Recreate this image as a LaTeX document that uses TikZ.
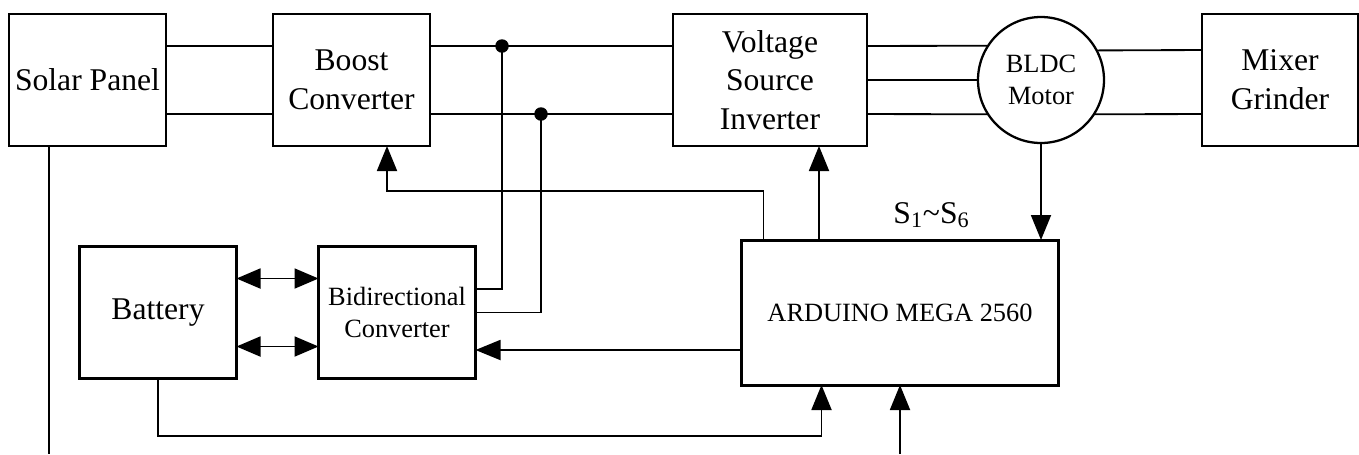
\documentclass[tikz,border=0pt]{standalone}
\usepackage{fontspec}
\setmainfont{Liberation Serif}
\usetikzlibrary{arrows.meta, positioning, calc}
\tikzset{
  blk/.style={draw, line width=1.3pt, minimum width=3.14cm, minimum height=2.64cm, inner sep=2pt, outer sep=0pt, align=center, font=\fontsize{18}{22}\selectfont},
  smallblk/.style={blk, font=\fontsize{15}{18}\selectfont},
  ctrlnode/.style={blk, line width=1.7pt, minimum width=6.34cm, minimum height=2.9cm, font=\fontsize{15}{18}\selectfont},
  motornode/.style={circle, draw, line width=1.3pt, minimum size=2.52cm, inner sep=0pt, outer sep=0pt, align=center, font=\fontsize{15}{18}\selectfont},
  wire/.style={line width=1.05pt},
  sigarrow/.style={wire, -{Triangle[length=0.5cm, width=0.4cm]}},
  dblarrow/.style={wire, {Triangle[length=0.48cm, width=0.4cm]}-{Triangle[length=0.48cm, width=0.4cm]}},
  junction/.style={circle, fill, inner sep=0pt, minimum size=0.27cm},
}
\begin{document}
\begin{tikzpicture}[node distance=2cm]
  \useasboundingbox (0,0) rectangle (27.18,-9.08);
  \node[blk] (solar) at (1.75,-1.6) {Solar Panel};
  \node[blk] (boost) [right=2.14cm of solar] {Boost\\Converter};
  \node[blk, minimum width=3.88cm] (vsi) [right=4.86cm of boost] {Voltage\\Source\\Inverter};
  \node[motornode] (motor) [right=2.22cm of vsi] {BLDC\\Motor};
  \node[blk, minimum width=3.12cm] (mixer) [right=1.96cm of motor] {Mixer\\Grinder};
  \node[blk] (battery) at (3.16,-6.25) {Battery};
  \node[smallblk] (bidir) [right=1.64cm of battery] {Bidirectional\\Converter};
  \node[ctrlnode] (arduino) [right=5.32cm of bidir] {ARDUINO MEGA 2560};
  \node[font=\fontsize{18}{22}\selectfont, anchor=base] (sig) at ([xshift=0.63cm, yshift=0.34cm]arduino.north) {S\textsubscript{1}\textasciitilde S\textsubscript{6}};

  \coordinate (j1) at ([xshift=1.44cm, yshift=0.68cm]boost.east);
  \coordinate (j2) at ([xshift=2.22cm, yshift=-0.68cm]boost.east);
  \node[junction] (dot1) at (j1) {};
  \node[junction] (dot2) at (j2) {};
  \coordinate (pvend) at ([xshift=0.8cm, yshift=-6.16cm]solar.south west);
  \coordinate (ext) at ([yshift=-1.38cm]arduino.south);

  \draw[wire] ([yshift=0.68cm]solar.east) -- ([yshift=0.68cm]boost.west);
  \draw[wire] ([yshift=-0.68cm]solar.east) -- ([yshift=-0.68cm]boost.west);
  \draw[wire] ([yshift=0.68cm]boost.east) -- ([yshift=0.68cm]vsi.west);
  \draw[wire] ([yshift=-0.68cm]boost.east) -- ([yshift=-0.68cm]vsi.west);
  \draw[wire] ([yshift=0.68cm]vsi.east) -- (motor.147); \draw[wire] (vsi.east) -- (motor.west); \draw[wire] ([yshift=-0.68cm]vsi.east) -- (motor.213);
  \draw[wire] (motor.28) -- ([yshift=0.6cm]mixer.west); \draw[wire] (motor.327) -- ([yshift=-0.68cm]mixer.west);
  \draw[wire] (j1) |- ([yshift=0.47cm]bidir.east);
  \draw[wire] (j2) |- (bidir.east);
  \draw[wire] ([xshift=0.8cm]solar.south west) -- (pvend);

  \draw[dblarrow] ([yshift=0.68cm]battery.east) -- ([yshift=0.68cm]bidir.west);
  \draw[dblarrow] ([yshift=-0.68cm]battery.east) -- ([yshift=-0.68cm]bidir.west);
  \draw[sigarrow] ([yshift=-0.75cm]arduino.west) -- ([yshift=-0.75cm]bidir.east);
  \draw[sigarrow] ([xshift=0.44cm]arduino.north west) |- ([xshift=0.71cm, yshift=-0.9cm]boost.south) -- ([xshift=0.71cm]boost.south);
  \draw[sigarrow] ([xshift=1.55cm]arduino.north west) -- ([xshift=1.55cm]arduino.north west |- vsi.south);
  \draw[sigarrow] (motor.south) -- (motor.south |- arduino.north);
  \draw[sigarrow] (battery.south) |- ([xshift=1.6cm, yshift=-1.02cm]arduino.south west) -- ([xshift=1.6cm]arduino.south west);
  \draw[sigarrow] (ext) -- (arduino.south);
\end{tikzpicture}
\end{document}
